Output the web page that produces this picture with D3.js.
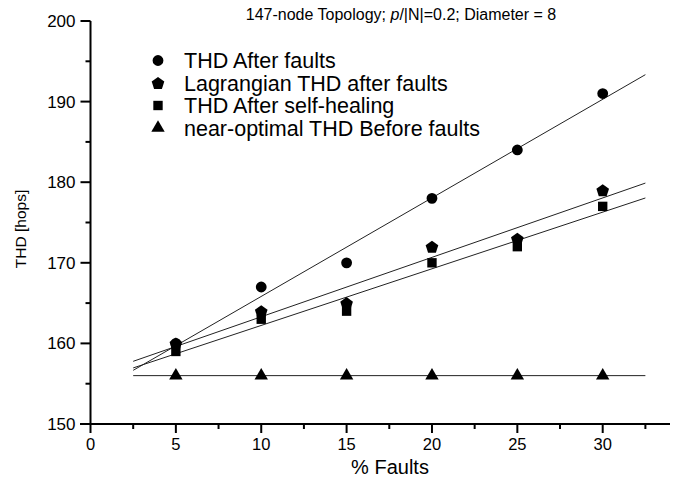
<!DOCTYPE html>
<html>
<head>
<meta charset="utf-8">
<script src="https://cdn.jsdelivr.net/npm/d3@7"></script>
<style>
  html, body { margin: 0; padding: 0; background: #fff; }
  svg { display: block; font-family: "Liberation Sans", Arial, sans-serif; }
</style>
</head>
<body>
<svg id="chart" width="678" height="482"></svg>
<script>
// Fault percentages (x) and THD in hops for each series
const faults = [5, 10, 15, 20, 25, 30];
const thdAfterFaults = [160, 167, 170, 178, 184, 191];
const lagrangianThd = [160, 164, 165, 172, 173, 179];
const thdSelfHealing = [159, 163, 164, 170, 172, 177];
const thdBeforeFaults = [156, 156, 156, 156, 156, 156];

const xTicks = [0, 5, 10, 15, 20, 25, 30];
const yTicks = [150, 160, 170, 180, 190, 200];
const fitRange = [2.5, 32.5];

const seriesNames = [
  "THD After faults",
  "Lagrangian THD after faults",
  "THD After self-healing",
  "near-optimal THD Before faults"
];

const svg = d3.select("#chart");
const x = d3.scaleLinear().domain([0, 34]).range([90.5, 671]);
const y = d3.scaleLinear().domain([150, 200]).range([424, 21]);

// Filled pentagon marker
const pentagon = {
  draw(ctx, size) {
    const r = Math.sqrt(size / 2.38);
    for (let i = 0; i < 5; i++) {
      const a = -Math.PI / 2 + i * 2 * Math.PI / 5;
      const px = r * Math.cos(a), py = r * Math.sin(a) + r * 0.1;
      if (i === 0) ctx.moveTo(px, py); else ctx.lineTo(px, py);
    }
    ctx.closePath();
  }
};
const series = [
  { name: seriesNames[0], values: thdAfterFaults, symbol: d3.symbolCircle, size: 92 },
  { name: seriesNames[1], values: lagrangianThd, symbol: pentagon, size: 105 },
  { name: seriesNames[2], values: thdSelfHealing, symbol: d3.symbolSquare, size: 88 },
  { name: seriesNames[3], values: thdBeforeFaults, symbol: d3.symbolTriangle, size: 78 }
];

// Least-squares line for each series
function fit(xs, ys) {
  const mx = d3.mean(xs), my = d3.mean(ys);
  let sxy = 0, sxx = 0;
  xs.forEach((v, i) => { sxy += (v - mx) * (ys[i] - my); sxx += (v - mx) ** 2; });
  const b = sxy / sxx, a = my - b * mx;
  return fitRange.map(v => [v, a + b * v]);
}

// Axes
const gx = svg.append("g").attr("transform", `translate(0,${y(150)})`);
gx.append("line").attr("x1", 80).attr("x2", 670).attr("stroke", "#000").attr("stroke-width", 2);
const xMinor = d3.range(2.5, 33, 5);
gx.selectAll(".xminor").data(xMinor).join("line")
  .attr("x1", d => x(d)).attr("x2", d => x(d)).attr("y1", 0).attr("y2", 5)
  .attr("stroke", "#000").attr("stroke-width", 2);
gx.selectAll(".xmajor").data(xTicks).join("line")
  .attr("x1", d => x(d)).attr("x2", d => x(d)).attr("y1", 0).attr("y2", 9)
  .attr("stroke", "#000").attr("stroke-width", 2);
gx.selectAll("text").data(xTicks).join("text")
  .attr("x", d => x(d)).attr("y", 26).attr("text-anchor", "middle")
  .attr("font-size", 16.5).text(d => d);

const gy = svg.append("g").attr("transform", `translate(${x(0)},0)`);
gy.append("line").attr("y1", y(150)).attr("y2", y(200)).attr("stroke", "#000").attr("stroke-width", 2);
const yMinor = d3.range(155, 200, 10);
gy.selectAll(".yminor").data(yMinor).join("line")
  .attr("y1", d => y(d)).attr("y2", d => y(d)).attr("x1", 0).attr("x2", -5)
  .attr("stroke", "#000").attr("stroke-width", 2);
gy.selectAll(".ymajor").data(yTicks).join("line")
  .attr("y1", d => y(d)).attr("y2", d => y(d)).attr("x1", 0).attr("x2", -10)
  .attr("stroke", "#000").attr("stroke-width", 2);
gy.selectAll("text").data(yTicks).join("text")
  .attr("x", -15).attr("y", d => y(d)).attr("dy", "0.35em").attr("text-anchor", "end")
  .attr("font-size", 17).text(d => d);

// Axis titles
svg.append("text").attr("x", 390).attr("y", 474).attr("text-anchor", "middle")
  .attr("font-size", 20).text("% Faults");
svg.append("text").attr("transform", "translate(26,229) rotate(-90)")
  .attr("text-anchor", "middle").attr("font-size", 15.5).text("THD [hops]");

// Title
const title = svg.append("text").attr("x", 401).attr("y", 20).attr("text-anchor", "middle").attr("font-size", 16);
title.append("tspan").text("147-node Topology; ");
title.append("tspan").attr("font-style", "italic").text("p");
title.append("tspan").text("/|N|=0.2; Diameter = 8");

// Fit lines
const line = d3.line().x(d => x(d[0])).y(d => y(d[1]));
series.forEach(s => {
  svg.append("path").attr("d", line(fit(faults, s.values)))
    .attr("fill", "none").attr("stroke", "#222").attr("stroke-width", 1);
});

// Markers
series.forEach(s => {
  const sym = d3.symbol().type(s.symbol).size(s.size);
  svg.append("g").selectAll("path").data(faults).join("path")
    .attr("transform", (d, i) => `translate(${x(d)},${y(s.values[i])})`)
    .attr("d", sym).attr("fill", "#000");
});

// Legend
const legend = svg.append("g");
series.forEach((s, i) => {
  const cy = 60.5 + i * 22.5;
  legend.append("path").attr("transform", `translate(158,${cy})`)
    .attr("d", d3.symbol().type(s.symbol).size(s.size)).attr("fill", "#000");
  legend.append("text").attr("x", 184).attr("y", cy).attr("dy", "0.35em")
    .attr("font-size", 21.5).text(s.name);
});
</script>
</body>
</html>
